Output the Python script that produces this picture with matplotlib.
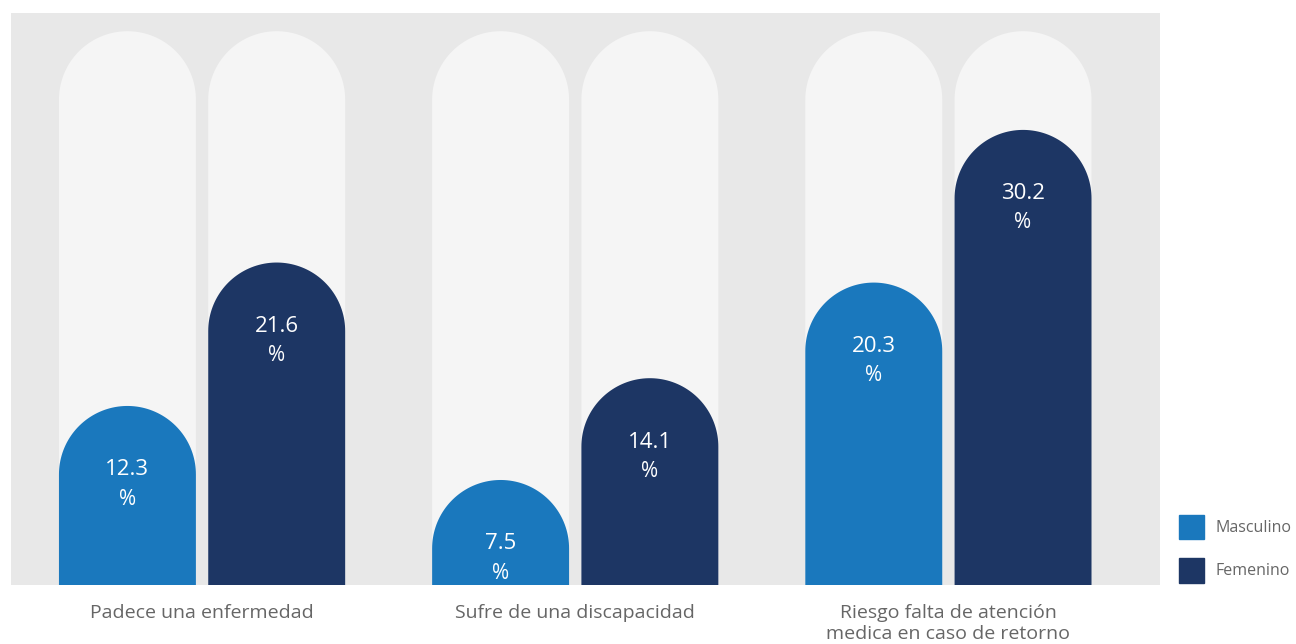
import numpy as np
import matplotlib.pyplot as plt
from matplotlib.patches import Patch

plt.rcParams['font.family'] = ['Open Sans', 'DejaVu Sans']

# Data
categories = ["Padece una enfermedad", "Sufre de una discapacidad",
              "Riesgo falta de atención\nmedica en caso de retorno"]
masculino = [12.3, 7.5, 20.3]
femenino = [21.6, 14.1, 30.2]
series_names = ["Masculino", "Femenino"]
track_max = 36.6  # height of the light background "track" bars

# Colors
panel_color = "#e8e8e8"
track_color = "#f5f5f5"
colors = ["#1a78bd", "#1d3664"]
label_gray = "#666666"

fig = plt.figure(figsize=(12.96, 6.44), dpi=100)
ax = fig.add_axes([11 / 1296, 59 / 644, 1149 / 1296, 572 / 644])
ax.set_facecolor(panel_color)
ax.set_xlim(-0.512, 2.567)
ax.set_ylim(0.69, 37.78)

bar_w = 0.367
offset = 0.2

bbox = ax.get_window_extent()
px_x = bbox.width / (ax.get_xlim()[1] - ax.get_xlim()[0])
px_y = bbox.height / (ax.get_ylim()[1] - ax.get_ylim()[0])


def rounded_bar(xc, top, color, z):
    # rectangle with a semicircular top (circular in pixels)
    rx = bar_w / 2
    ry = rx * px_x / px_y
    theta = np.linspace(0, np.pi, 80)
    xs = np.concatenate([[xc + rx], xc + rx * np.cos(theta), [xc - rx]])
    ys = np.concatenate([[0], top - ry + ry * np.sin(theta), [0]])
    ax.fill(xs, ys, color=color, lw=0, zorder=z)


x = np.arange(len(categories))
for i, vals in enumerate([masculino, femenino]):
    pos = x + (i - 0.5) * 2 * offset
    for xc, v in zip(pos, vals):
        rounded_bar(xc, track_max, track_color, 1)
        rounded_bar(xc, v, colors[i], 2)
        ax.annotate(f"{v}", (xc, v), xytext=(0, -46), textcoords="offset points",
                    ha="center", va="center", color="white", fontsize=16, zorder=3)
        ax.annotate("%", (xc, v), xytext=(0, -67), textcoords="offset points",
                    ha="center", va="center", color="white", fontsize=15, zorder=3)

ax.set_xticks(x)
ax.set_xticklabels(categories, fontsize=14, color=label_gray, linespacing=1.2)
ax.tick_params(axis="x", length=0, pad=14)
ax.set_yticks([])
for s in ax.spines.values():
    s.set_visible(False)

handles = [Patch(color=c, label=n) for c, n in zip(colors, series_names)]
fig.legend(handles=handles, loc="upper left", bbox_to_anchor=(1172.6 / 1296, 1 - 508.6 / 644),
           borderaxespad=0, frameon=False, fontsize=11.5, handlelength=1.565,
           handleheight=1.98, handletextpad=0.75, labelspacing=1.17,
           labelcolor=label_gray)

fig.savefig("out.png", dpi=100)
